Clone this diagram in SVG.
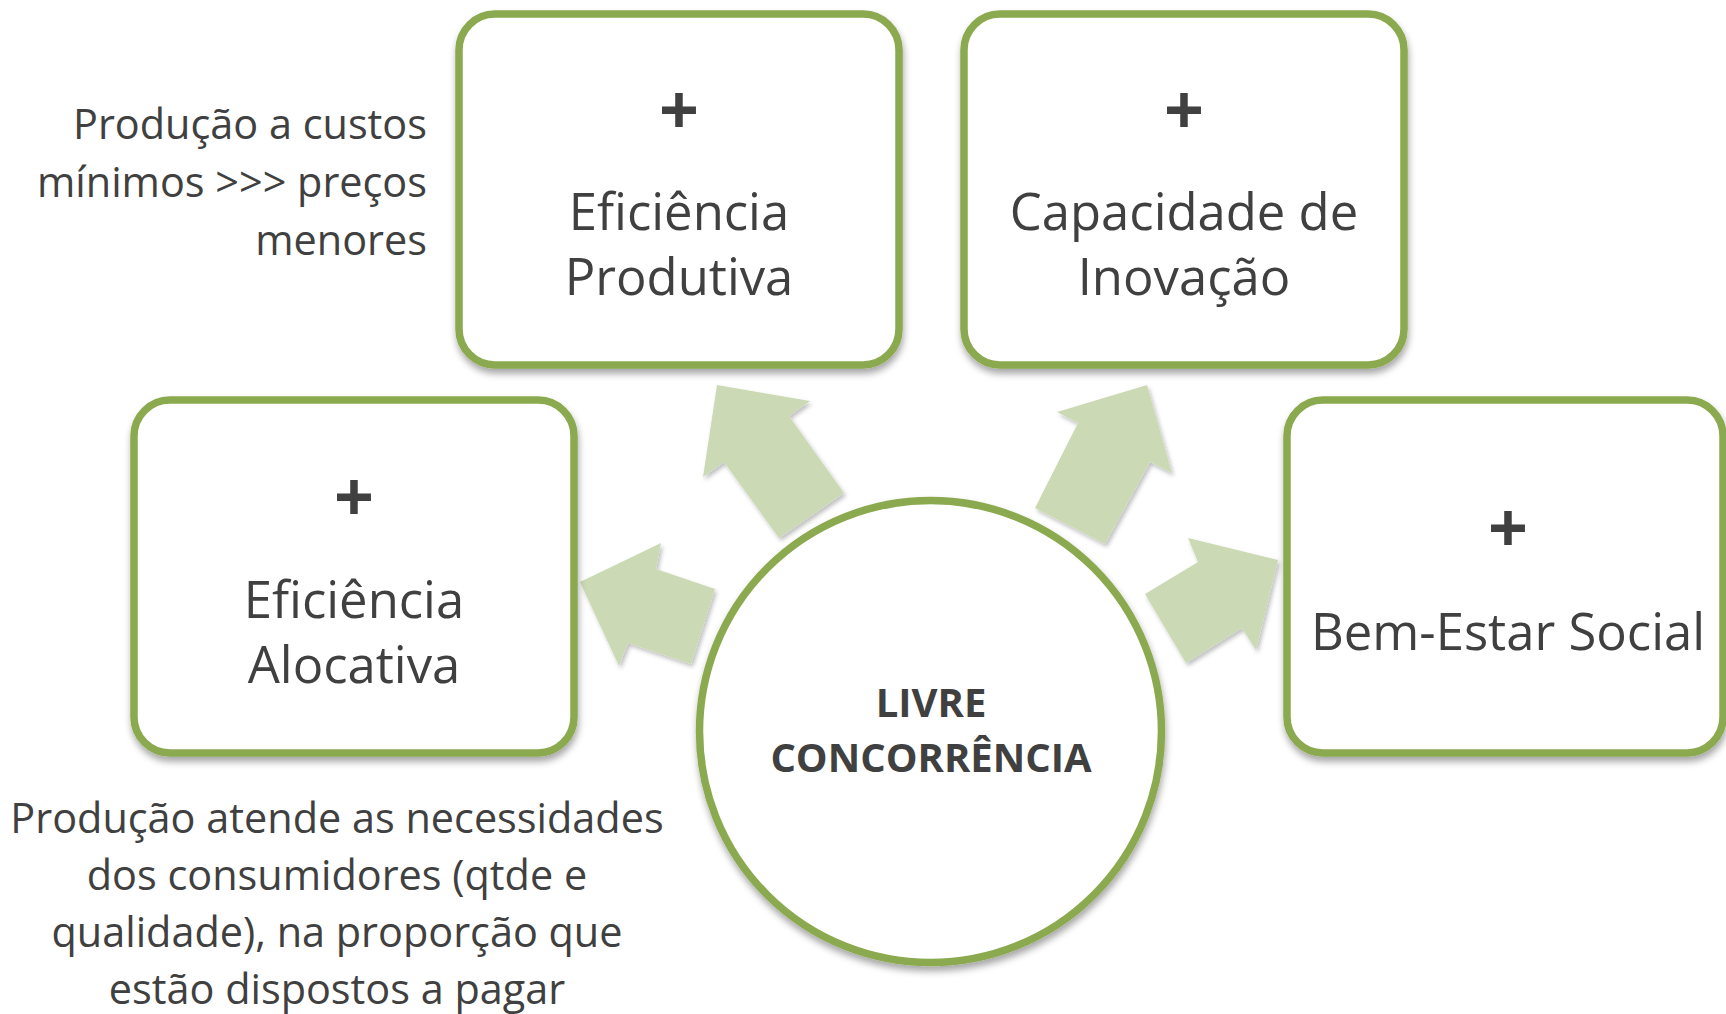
<svg xmlns="http://www.w3.org/2000/svg" width="1726" height="1014" viewBox="0 0 1726 1014">
  <defs>
    <filter id="shBox" x="-10%" y="-10%" width="125%" height="130%">
      <feDropShadow dx="1" dy="5" stdDeviation="3.5" flood-color="#000" flood-opacity="0.35"/>
    </filter>
    <filter id="shArrow" x="-15%" y="-15%" width="135%" height="135%">
      <feDropShadow dx="2" dy="3" stdDeviation="2" flood-color="#000" flood-opacity="0.25"/>
    </filter>
    <style>
      .box { fill: #ffffff; stroke: #8BAA4F; stroke-width: 7.5; filter: url(#shBox); }
      .hub { fill: #ffffff; stroke: #8BAA4F; stroke-width: 7.5; filter: url(#shBox); }
      .arrow { fill: #CBDAB5; stroke: none; filter: url(#shArrow); }
      .lbl { font-family: "Open Sans", "Noto Sans", "DejaVu Sans", sans-serif; font-size: 50.8px; fill: #404040; text-anchor: middle; }
      .plus { font-family: "Open Sans", "Noto Sans", "DejaVu Sans", sans-serif; font-size: 70px; font-weight: bold; fill: #404040; text-anchor: middle; }
      .hubtxt { font-family: "Open Sans", "Noto Sans", "DejaVu Sans", sans-serif; font-size: 40px; font-weight: bold; fill: #404040; text-anchor: middle; }
      .note { font-family: "Open Sans", "Noto Sans", "DejaVu Sans", sans-serif; font-size: 41.4px; fill: #404040; }
    </style>
  </defs>
  <rect x="0" y="0" width="1726" height="1014" fill="#ffffff"/>

  <g id="connectors">
    <polygon class="arrow" points="717,385 810,401 789,416 844,493 779,538 724,462 703,477"/>
    <polygon class="arrow" points="1147,385 1172,473 1150,462 1105,544 1035,508 1078,423 1057,412"/>
    <polygon class="arrow" points="580,582 661,543 656,569 715,589 691,664 628,643 619,666"/>
    <polygon class="arrow" points="1278,560 1188,538 1198,562 1145,594 1186,663 1242,628 1256,650"/>
  </g>

  <g id="node-eficiencia-produtiva">
    <rect class="box" x="459" y="14" width="440" height="351" rx="36"/>
    <text class="plus" x="679" y="135">+</text>
    <text class="lbl" x="679" y="230">Eficiência</text>
    <text class="lbl" x="679" y="295">Produtiva</text>
  </g>

  <g id="node-capacidade-inovacao">
    <rect class="box" x="964" y="14" width="440" height="351" rx="36"/>
    <text class="plus" x="1184" y="135">+</text>
    <text class="lbl" x="1184" y="230">Capacidade de</text>
    <text class="lbl" x="1184" y="295">Inovação</text>
  </g>

  <g id="node-eficiencia-alocativa">
    <rect class="box" x="134" y="400" width="440" height="353" rx="36"/>
    <text class="plus" x="354" y="522">+</text>
    <text class="lbl" x="354" y="618">Eficiência</text>
    <text class="lbl" x="354" y="683">Alocativa</text>
  </g>

  <g id="node-bem-estar-social">
    <rect class="box" x="1287" y="400" width="436" height="353" rx="36"/>
    <text class="plus" x="1508" y="553">+</text>
    <text class="lbl" x="1508" y="650">Bem-Estar Social</text>
  </g>

  <g id="node-livre-concorrencia">
    <circle class="hub" cx="930.5" cy="731.5" r="231"/>
    <text class="hubtxt" x="931" y="717">LIVRE</text>
    <text class="hubtxt" x="931" y="772">CONCORRÊNCIA</text>
  </g>

  <g id="note-produtiva">
    <text class="note" x="427" y="139" text-anchor="end">Produção a custos</text>
    <text class="note" x="427" y="197" text-anchor="end">mínimos &gt;&gt;&gt; preços</text>
    <text class="note" x="427" y="255" text-anchor="end">menores</text>
  </g>

  <g id="note-alocativa">
    <text class="note" x="337" y="833" text-anchor="middle">Produção atende as necessidades</text>
    <text class="note" x="337" y="890" text-anchor="middle">dos consumidores (qtde e</text>
    <text class="note" x="337" y="947" text-anchor="middle">qualidade), na proporção que</text>
    <text class="note" x="337" y="1004" text-anchor="middle">estão dispostos a pagar</text>
  </g>
</svg>
